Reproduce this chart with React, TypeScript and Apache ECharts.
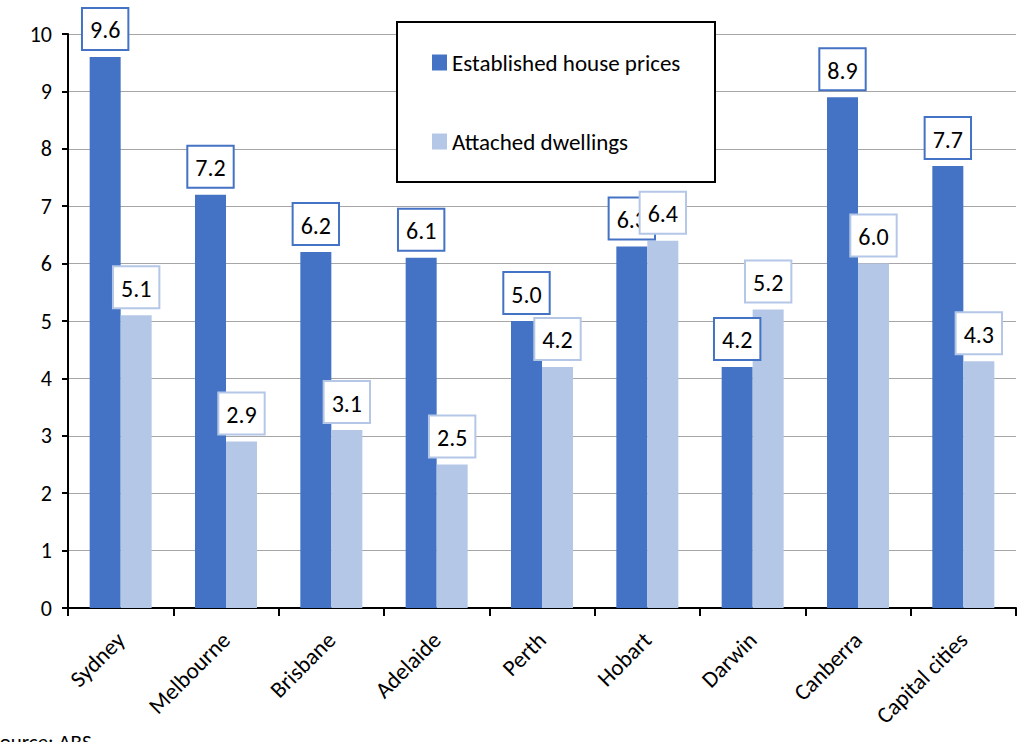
import React, { useEffect, useRef } from "react";
import * as echarts from "echarts";

const cities = ["Sydney", "Melbourne", "Brisbane", "Adelaide", "Perth", "Hobart", "Darwin", "Canberra", "Capital cities"];
const establishedHouses = [9.6, 7.2, 6.2, 6.1, 5.0, 6.3, 4.2, 8.9, 7.7];
const attachedDwellings = [5.1, 2.9, 3.1, 2.5, 4.2, 6.4, 5.2, 6.0, 4.3];
const yTicks = { min: 0, max: 10, interval: 1 };

const DARK = "#4472c4";
const LIGHT = "#b4c7e7";
const FONT = "Carlito, Lato, sans-serif";

function valueLabel(border: string) {
  return {
    show: true,
    position: "top" as const,
    distance: 8,
    formatter: (p: any) => Number(p.value).toFixed(1),
    color: "#000",
    fontFamily: FONT,
    fontSize: 24,
    lineHeight: 28,
    backgroundColor: "#fff",
    borderColor: border,
    borderWidth: 2,
    padding: [7, 7, 5, 7],
  };
}

export default function App() {
  const ref = useRef<HTMLDivElement>(null);

  useEffect(() => {
    if (!ref.current) return;
    const chart = echarts.init(ref.current, null, { renderer: "svg" });
    chart.setOption({
      animation: false,
      backgroundColor: "#fff",
      grid: { left: 68, right: 7, top: 34, bottom: 134, containLabel: false },
      legend: {
        orient: "vertical",
        left: 432,
        top: 51,
        z: 20,
        itemWidth: 15,
        itemHeight: 16,
        itemGap: 56,
        icon: "rect",
        padding: 0,
        textStyle: { fontFamily: FONT, fontSize: 23, color: "#000", padding: [0, 0, 0, 0] },
        data: ["Established house prices", "Attached dwellings"],
      },
      graphic: [
        {
          type: "rect",
          z: 10,
          shape: { x: 397, y: 22, width: 318, height: 160 },
          style: { fill: "#fff", stroke: "#000", lineWidth: 2 },
        },
        {
          type: "text",
          z: 10,
          left: -10,
          top: 731,
          style: { text: "Source: ABS", fontFamily: FONT, fontSize: 21, fill: "#000" },
        },
      ],
      xAxis: {
        type: "category",
        data: cities,
        boundaryGap: true,
        axisLine: { show: true, lineStyle: { color: "#000", width: 2 } },
        axisTick: { show: true, length: 8, alignWithLabel: false, lineStyle: { color: "#000", width: 2 } },
        axisLabel: {
          rotate: 45,
          interval: 0,
          margin: 28,
          fontFamily: FONT,
          fontSize: 23,
          color: "#000",
        },
      },
      yAxis: {
        type: "value",
        min: yTicks.min,
        max: yTicks.max,
        interval: yTicks.interval,
        axisLine: { show: true, lineStyle: { color: "#000", width: 2 } },
        axisTick: { show: true, length: 6, lineStyle: { color: "#000", width: 2 } },
        axisLabel: { margin: 16, fontFamily: FONT, fontSize: 22, color: "#000" },
        splitLine: { show: true, lineStyle: { color: "#a6a6a6", width: 1 } },
      },
      series: [
        {
          name: "Established house prices",
          type: "bar",
          data: establishedHouses,
          barWidth: 31,
          barGap: "0%",
          itemStyle: { color: DARK },
          label: valueLabel(DARK),
        },
        {
          name: "Attached dwellings",
          type: "bar",
          data: attachedDwellings,
          barWidth: 31,
          barGap: "0%",
          itemStyle: { color: LIGHT },
          label: valueLabel(LIGHT),
        },
      ],
    });
    return () => chart.dispose();
  }, []);

  return <div ref={ref} style={{ width: 1023, height: 742, position: "absolute", left: 0, top: 0 }} />;
}
